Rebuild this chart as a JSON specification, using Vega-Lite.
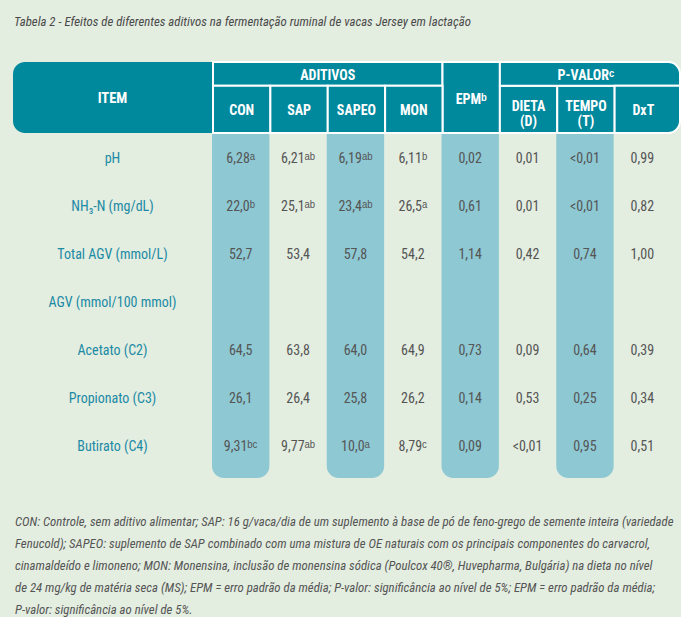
{
  "$schema": "https://vega.github.io/schema/vega-lite/v6.json",
  "background": "#e3ede0",
  "padding": {"left": 13, "top": 16, "right": 0, "bottom": 0},
  "config": {
    "view": {"stroke": null},
    "font": "Roboto Condensed, Roboto, sans-serif",
    "concat": {"spacing": 0}
  },
  "title": {
    "text": "Tabela 2 - Efeitos de diferentes aditivos na fermentação ruminal de vacas Jersey em lactação",
    "anchor": "start", "frame": "group", "fontSize": 12.8, "fontStyle": "italic", "fontWeight": "normal",
    "color": "#4a4a4a", "offset": 32, "dx": 1
  },
  "datasets": {
    "hcells": [
      {"label": "ADITIVOS", "c0": "CON", "c1": "MON", "r0": "t1", "r1": "t2", "tx": "SAPEO", "ty": "t2"},
      {"label": "EPMᵇ", "c0": "EPM", "c1": "EPM", "r0": "t1", "r1": "b4", "tx": "EPM", "ty": "b2"},
      {"label": "P-VALORᶜ", "c0": "DIETA", "c1": "DxT", "r0": "t1", "r1": "t2", "tx": "TEMPO", "ty": "t2"},
      {"label": "CON", "c0": "CON", "c1": "CON", "r0": "b1", "r1": "b4", "tx": "CON", "ty": "b3"},
      {"label": "SAP", "c0": "SAP", "c1": "SAP", "r0": "b1", "r1": "b4", "tx": "SAP", "ty": "b3"},
      {"label": "SAPEO", "c0": "SAPEO", "c1": "SAPEO", "r0": "b1", "r1": "b4", "tx": "SAPEO", "ty": "b3"},
      {"label": "MON", "c0": "MON", "c1": "MON", "r0": "b1", "r1": "b4", "tx": "MON", "ty": "b3"},
      {"label": "DIETA\n(D)", "c0": "DIETA", "c1": "DIETA", "r0": "b1", "r1": "b4", "tx": "DIETA", "ty": "b3"},
      {"label": "TEMPO\n(T)", "c0": "TEMPO", "c1": "TEMPO", "r0": "b1", "r1": "b4", "tx": "TEMPO", "ty": "b3"},
      {"label": "DxT", "c0": "DxT", "c1": "DxT", "r0": "b1", "r1": "b4", "tx": "DxT", "ty": "b3"}
    ],
    "items": [
      {"item": "pH"}, {"item": "NH₃-N (mg/dL)"}, {"item": "Total AGV (mmol/L)"}, {"item": "AGV (mmol/100 mmol)"},
      {"item": "Acetato (C2)"}, {"item": "Propionato (C3)"}, {"item": "Butirato (C4)"}
    ],
    "hl": [{"col": "CON"}, {"col": "SAPEO"}, {"col": "EPM"}, {"col": "TEMPO"}],
    "cells": [
      {"item": "pH", "col": "CON", "v": "6,28ᵃ"}, {"item": "pH", "col": "SAP", "v": "6,21ᵃᵇ"},
      {"item": "pH", "col": "SAPEO", "v": "6,19ᵃᵇ"}, {"item": "pH", "col": "MON", "v": "6,11ᵇ"},
      {"item": "pH", "col": "EPM", "v": "0,02"}, {"item": "pH", "col": "DIETA", "v": "0,01"},
      {"item": "pH", "col": "TEMPO", "v": "<0,01"}, {"item": "pH", "col": "DxT", "v": "0,99"},
      {"item": "NH₃-N (mg/dL)", "col": "CON", "v": "22,0ᵇ"}, {"item": "NH₃-N (mg/dL)", "col": "SAP", "v": "25,1ᵃᵇ"},
      {"item": "NH₃-N (mg/dL)", "col": "SAPEO", "v": "23,4ᵃᵇ"}, {"item": "NH₃-N (mg/dL)", "col": "MON", "v": "26,5ᵃ"},
      {"item": "NH₃-N (mg/dL)", "col": "EPM", "v": "0,61"}, {"item": "NH₃-N (mg/dL)", "col": "DIETA", "v": "0,01"},
      {"item": "NH₃-N (mg/dL)", "col": "TEMPO", "v": "<0,01"}, {"item": "NH₃-N (mg/dL)", "col": "DxT", "v": "0,82"},
      {"item": "Total AGV (mmol/L)", "col": "CON", "v": "52,7"}, {"item": "Total AGV (mmol/L)", "col": "SAP", "v": "53,4"},
      {"item": "Total AGV (mmol/L)", "col": "SAPEO", "v": "57,8"}, {"item": "Total AGV (mmol/L)", "col": "MON", "v": "54,2"},
      {"item": "Total AGV (mmol/L)", "col": "EPM", "v": "1,14"}, {"item": "Total AGV (mmol/L)", "col": "DIETA", "v": "0,42"},
      {"item": "Total AGV (mmol/L)", "col": "TEMPO", "v": "0,74"}, {"item": "Total AGV (mmol/L)", "col": "DxT", "v": "1,00"},
      {"item": "Acetato (C2)", "col": "CON", "v": "64,5"}, {"item": "Acetato (C2)", "col": "SAP", "v": "63,8"},
      {"item": "Acetato (C2)", "col": "SAPEO", "v": "64,0"}, {"item": "Acetato (C2)", "col": "MON", "v": "64,9"},
      {"item": "Acetato (C2)", "col": "EPM", "v": "0,73"}, {"item": "Acetato (C2)", "col": "DIETA", "v": "0,09"},
      {"item": "Acetato (C2)", "col": "TEMPO", "v": "0,64"}, {"item": "Acetato (C2)", "col": "DxT", "v": "0,39"},
      {"item": "Propionato (C3)", "col": "CON", "v": "26,1"}, {"item": "Propionato (C3)", "col": "SAP", "v": "26,4"},
      {"item": "Propionato (C3)", "col": "SAPEO", "v": "25,8"}, {"item": "Propionato (C3)", "col": "MON", "v": "26,2"},
      {"item": "Propionato (C3)", "col": "EPM", "v": "0,14"}, {"item": "Propionato (C3)", "col": "DIETA", "v": "0,53"},
      {"item": "Propionato (C3)", "col": "TEMPO", "v": "0,25"}, {"item": "Propionato (C3)", "col": "DxT", "v": "0,34"},
      {"item": "Butirato (C4)", "col": "CON", "v": "9,31ᵇᶜ"}, {"item": "Butirato (C4)", "col": "SAP", "v": "9,77ᵃᵇ"},
      {"item": "Butirato (C4)", "col": "SAPEO", "v": "10,0ᵃ"}, {"item": "Butirato (C4)", "col": "MON", "v": "8,79ᶜ"},
      {"item": "Butirato (C4)", "col": "EPM", "v": "0,09"}, {"item": "Butirato (C4)", "col": "DIETA", "v": "<0,01"},
      {"item": "Butirato (C4)", "col": "TEMPO", "v": "0,95"}, {"item": "Butirato (C4)", "col": "DxT", "v": "0,51"}
    ]
  },
  "spacing": 0,
  "vconcat": [
    {
      "spacing": 0,
      "hconcat": [
        {
          "width": 199, "height": 71,
          "data": {"values": [{"label": "ITEM"}]},
          "layer": [
            {"mark": {"type": "rect", "fill": "#00889c", "cornerRadiusTopLeft": 12, "cornerRadiusBottomLeft": 12}, "encoding": {}},
            {"mark": {"type": "text", "color": "white", "fontSize": 14.5, "fontWeight": "bold", "dy": 1}, "encoding": {"text": {"field": "label"}}}
          ]
        },
        {
          "width": 459, "height": 71,
          "data": {"name": "hcells"},
          "layer": [
            {
              "transform": [{"filter": "datum.label !== 'P-VALORᶜ' && datum.label !== 'DxT'"}],
              "mark": {"type": "rect", "fill": "#00889c", "stroke": "white", "strokeWidth": 2},
              "encoding": {
                "x": {"field": "c0", "type": "nominal", "bandPosition": 0, "scale": {"type": "band", "domain": ["CON", "SAP", "SAPEO", "MON", "EPM", "DIETA", "TEMPO", "DxT"], "paddingInner": 0, "paddingOuter": 0}, "axis": null},
                "x2": {"field": "c1", "bandPosition": 1},
                "y": {"field": "r0", "type": "nominal", "bandPosition": 0, "scale": {"type": "band", "domain": ["t1", "t2", "b1", "b2", "b3", "b4"], "paddingInner": 0, "paddingOuter": 0}, "axis": null},
                "y2": {"field": "r1", "bandPosition": 1}
              }
            },
            {
              "transform": [{"filter": "datum.label === 'P-VALORᶜ'"}],
              "mark": {"type": "rect", "fill": "#00889c", "stroke": "white", "strokeWidth": 2, "cornerRadiusTopRight": 12, "x2Offset": 8},
              "encoding": {
                "x": {"field": "c0", "type": "nominal", "bandPosition": 0, "scale": {"type": "band", "domain": ["CON", "SAP", "SAPEO", "MON", "EPM", "DIETA", "TEMPO", "DxT"], "paddingInner": 0, "paddingOuter": 0}, "axis": null},
                "x2": {"field": "c1", "bandPosition": 1},
                "y": {"field": "r0", "type": "nominal", "bandPosition": 0, "scale": {"type": "band", "domain": ["t1", "t2", "b1", "b2", "b3", "b4"], "paddingInner": 0, "paddingOuter": 0}, "axis": null},
                "y2": {"field": "r1", "bandPosition": 1}
              }
            },
            {
              "transform": [{"filter": "datum.label === 'DxT'"}],
              "mark": {"type": "rect", "fill": "#00889c", "stroke": "white", "strokeWidth": 2, "cornerRadiusBottomRight": 12, "x2Offset": 8},
              "encoding": {
                "x": {"field": "c0", "type": "nominal", "bandPosition": 0, "scale": {"type": "band", "domain": ["CON", "SAP", "SAPEO", "MON", "EPM", "DIETA", "TEMPO", "DxT"], "paddingInner": 0, "paddingOuter": 0}, "axis": null},
                "x2": {"field": "c1", "bandPosition": 1},
                "y": {"field": "r0", "type": "nominal", "bandPosition": 0, "scale": {"type": "band", "domain": ["t1", "t2", "b1", "b2", "b3", "b4"], "paddingInner": 0, "paddingOuter": 0}, "axis": null},
                "y2": {"field": "r1", "bandPosition": 1}
              }
            },
            {
              "transform": [{"filter": "datum.label === 'ADITIVOS'"}],
              "mark": {"type": "text", "color": "white", "fontSize": 14, "fontWeight": "bold", "baseline": "middle", "dy": 2},
              "encoding": {
                "x": {"field": "tx", "type": "nominal", "bandPosition": 0, "scale": {"type": "band", "domain": ["CON", "SAP", "SAPEO", "MON", "EPM", "DIETA", "TEMPO", "DxT"], "paddingInner": 0, "paddingOuter": 0}, "axis": null},
                "y": {"field": "ty", "type": "nominal", "bandPosition": 0, "scale": {"type": "band", "domain": ["t1", "t2", "b1", "b2", "b3", "b4"], "paddingInner": 0, "paddingOuter": 0}, "axis": null},
                "text": {"field": "label"}
              }
            },
            {
              "transform": [{"filter": "datum.label !== 'ADITIVOS' && indexof(datum.label, '(') < 0"}],
              "mark": {"type": "text", "color": "white", "fontSize": 14, "fontWeight": "bold", "baseline": "middle", "dy": 2},
              "encoding": {
                "x": {"field": "tx", "type": "nominal", "bandPosition": 0.5, "scale": {"type": "band", "domain": ["CON", "SAP", "SAPEO", "MON", "EPM", "DIETA", "TEMPO", "DxT"], "paddingInner": 0, "paddingOuter": 0}, "axis": null},
                "y": {"field": "ty", "type": "nominal", "bandPosition": 0, "scale": {"type": "band", "domain": ["t1", "t2", "b1", "b2", "b3", "b4"], "paddingInner": 0, "paddingOuter": 0}, "axis": null},
                "text": {"field": "label"}
              }
            },
            {
              "transform": [{"filter": "indexof(datum.label, '(') >= 0"}],
              "mark": {"type": "text", "color": "white", "fontSize": 14, "fontWeight": "bold", "baseline": "middle", "lineBreak": "\n", "lineHeight": 15, "dy": -2},
              "encoding": {
                "x": {"field": "tx", "type": "nominal", "bandPosition": 0.5, "scale": {"type": "band", "domain": ["CON", "SAP", "SAPEO", "MON", "EPM", "DIETA", "TEMPO", "DxT"], "paddingInner": 0, "paddingOuter": 0}, "axis": null},
                "y": {"field": "ty", "type": "nominal", "bandPosition": 0, "scale": {"type": "band", "domain": ["t1", "t2", "b1", "b2", "b3", "b4"], "paddingInner": 0, "paddingOuter": 0}, "axis": null},
                "text": {"field": "label"}
              }
            }
          ]
        }
      ]
    },
    {
      "spacing": 0,
      "title": {
        "text": [
          "CON: Controle, sem aditivo alimentar; SAP: 16 g/vaca/dia de um suplemento à base de pó de feno-grego de semente inteira (variedade",
          "Fenucold); SAPEO: suplemento de SAP combinado com uma mistura de OE naturais com os principais componentes do carvacrol,",
          "cinamaldeído e limoneno; MON: Monensina, inclusão de monensina sódica (Poulcox 40®, Huvepharma, Bulgária) na dieta no nível",
          "de 24 mg/kg de matéria seca (MS); EPM = erro padrão da média; P-valor: significância ao nível de 5%; EPM = erro padrão da média;",
          "P-valor: significância ao nível de 5%."
        ],
        "orient": "bottom", "anchor": "start", "frame": "group", "fontSize": 12.8, "fontStyle": "italic", "fontWeight": "normal",
        "color": "#555555", "lineHeight": 22, "offset": 38, "dx": 2
      },
      "hconcat": [
        {
          "width": 199, "height": 344,
          "data": {"name": "items"},
          "mark": {"type": "text", "fontSize": 14, "color": "#1b8aa4"},
          "encoding": {
            "y": {"field": "item", "type": "nominal", "bandPosition": 0.5, "scale": {"type": "band", "domain": ["pH", "NH₃-N (mg/dL)", "Total AGV (mmol/L)", "AGV (mmol/100 mmol)", "Acetato (C2)", "Propionato (C3)", "Butirato (C4)"], "paddingInner": 0, "paddingOuter": 0.091, "align": 0.155}, "axis": null},
            "text": {"field": "item"}
          }
        },
        {
          "width": 459, "height": 344,
          "layer": [
            {
              "data": {"name": "hl"},
              "mark": {"type": "rect", "fill": "#8dc8d3", "cornerRadiusBottomLeft": 12, "cornerRadiusBottomRight": 12},
              "encoding": {
                "x": {"field": "col", "type": "nominal", "scale": {"type": "band", "domain": ["CON", "SAP", "SAPEO", "MON", "EPM", "DIETA", "TEMPO", "DxT"], "paddingInner": 0, "paddingOuter": 0}, "axis": null}
              }
            },
            {
              "data": {"name": "cells"},
              "mark": {"type": "text", "fontSize": 14, "color": "#555555"},
              "encoding": {
                "x": {"field": "col", "type": "nominal", "bandPosition": 0.5, "scale": {"type": "band", "domain": ["CON", "SAP", "SAPEO", "MON", "EPM", "DIETA", "TEMPO", "DxT"], "paddingInner": 0, "paddingOuter": 0}, "axis": null},
                "y": {"field": "item", "type": "nominal", "bandPosition": 0.5, "scale": {"type": "band", "domain": ["pH", "NH₃-N (mg/dL)", "Total AGV (mmol/L)", "AGV (mmol/100 mmol)", "Acetato (C2)", "Propionato (C3)", "Butirato (C4)"], "paddingInner": 0, "paddingOuter": 0.091, "align": 0.155}, "axis": null},
                "text": {"field": "v"}
              }
            }
          ]
        }
      ]
    }
  ]
}
